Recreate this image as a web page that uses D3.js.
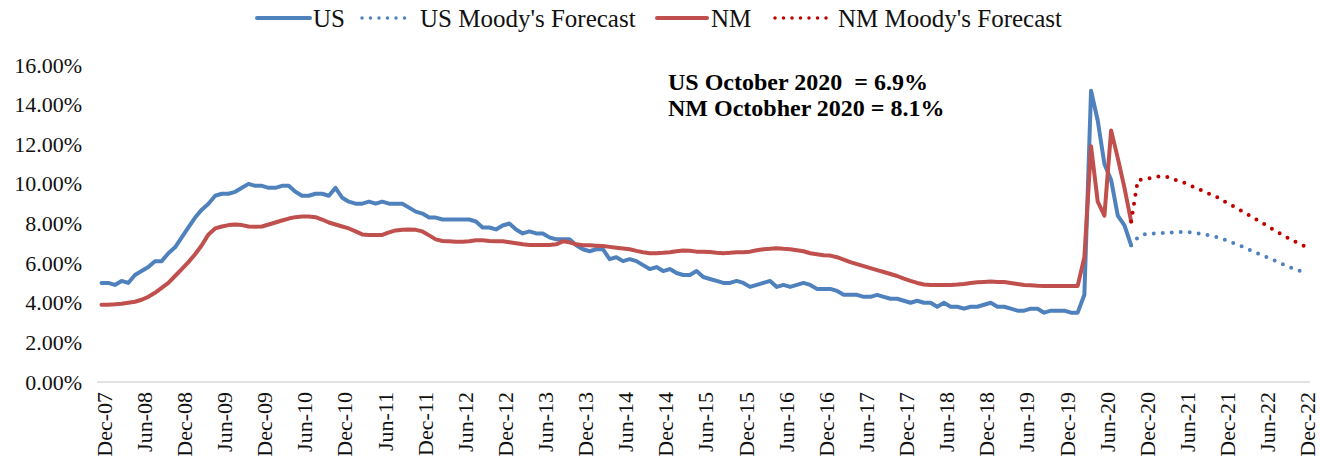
<!DOCTYPE html>
<html>
<head>
<meta charset="utf-8">
<script src="https://cdn.jsdelivr.net/npm/d3@7"></script>
<style>
  body { margin: 0; background: #fff; }
  svg { font-family: "Liberation Serif", "Times New Roman", serif; }
</style>
</head>
<body>
<svg id="chart" width="1320" height="465"></svg>
<script>
// unemployment rates (%), monthly Dec-07 .. Oct-20
var usActual = [5.0,
  5.0,4.9,5.1,5.0,5.4,5.6,5.8,6.1,6.1,6.5,6.8,7.3,
  7.8,8.3,8.7,9.0,9.4,9.5,9.5,9.6,9.8,10.0,9.9,9.9,
  9.8,9.8,9.9,9.9,9.6,9.4,9.4,9.5,9.5,9.4,9.8,9.3,
  9.1,9.0,9.0,9.1,9.0,9.1,9.0,9.0,9.0,8.8,8.6,8.5,
  8.3,8.3,8.2,8.2,8.2,8.2,8.2,8.1,7.8,7.8,7.7,7.9,
  8.0,7.7,7.5,7.6,7.5,7.5,7.3,7.2,7.2,7.2,6.9,6.7,
  6.6,6.7,6.7,6.2,6.3,6.1,6.2,6.1,5.9,5.7,5.8,5.6,
  5.7,5.5,5.4,5.4,5.6,5.3,5.2,5.1,5.0,5.0,5.1,5.0,
  4.8,4.9,5.0,5.1,4.8,4.9,4.8,4.9,5.0,4.9,4.7,4.7,
  4.7,4.6,4.4,4.4,4.4,4.3,4.3,4.4,4.3,4.2,4.2,4.1,
  4.0,4.1,4.0,4.0,3.8,4.0,3.8,3.8,3.7,3.8,3.8,3.9,
  4.0,3.8,3.8,3.7,3.6,3.6,3.7,3.7,3.5,3.6,3.6,3.6,
  3.5,3.5,4.4,14.7,13.2,11.0,10.2,8.4,7.9,6.9];

var nmActual = [3.9,
  3.9,3.92,3.95,4.0,4.05,4.15,4.3,4.5,4.75,5.0,5.35,5.7,
  6.05,6.45,6.9,7.45,7.75,7.85,7.92,7.95,7.92,7.85,7.84,7.85,
  7.95,8.05,8.15,8.25,8.32,8.35,8.35,8.32,8.2,8.05,7.95,7.85,
  7.75,7.6,7.45,7.42,7.42,7.42,7.55,7.65,7.68,7.7,7.68,7.6,
  7.4,7.2,7.12,7.1,7.08,7.08,7.1,7.15,7.15,7.12,7.1,7.1,
  7.05,7.0,6.95,6.92,6.92,6.92,6.92,6.95,7.1,7.05,6.95,6.9,
  6.9,6.88,6.86,6.82,6.78,6.74,6.7,6.62,6.55,6.5,6.5,6.52,
  6.55,6.6,6.64,6.62,6.58,6.58,6.56,6.52,6.5,6.52,6.55,6.55,
  6.58,6.65,6.7,6.72,6.75,6.72,6.7,6.65,6.6,6.5,6.45,6.4,
  6.38,6.3,6.18,6.05,5.95,5.85,5.75,5.65,5.55,5.45,5.35,5.22,
  5.1,5.0,4.92,4.9,4.9,4.9,4.9,4.92,4.95,5.0,5.03,5.05,
  5.07,5.05,5.05,5.0,4.95,4.9,4.88,4.86,4.85,4.85,4.85,4.85,
  4.85,4.85,6.3,11.9,9.1,8.4,12.7,11.3,9.8,8.1];

// Moody's forecast, Oct-20 .. Dec-22
var usForecast = [6.9,
  7.3,7.45,7.5,7.5,7.52,7.55,7.57,7.57,7.55,7.5,7.44,7.38,7.3,
  7.18,7.05,6.92,6.78,6.63,6.48,6.34,6.2,6.05,5.9,5.76,5.63,5.52];
var nmForecast = [8.1,
  10.2,10.22,10.3,10.37,10.37,10.3,10.15,10.05,9.9,9.75,9.6,9.45,9.3,
  9.1,8.92,8.73,8.55,8.35,8.15,7.95,7.75,7.55,7.35,7.18,7.0,6.85];

var tickLabels = ["Dec-07","Jun-08","Dec-08","Jun-09","Dec-09","Jun-10","Dec-10",
  "Jun-11","Dec-11","Jun-12","Dec-12","Jun-13","Dec-13","Jun-14","Dec-14",
  "Jun-15","Dec-15","Jun-16","Dec-16","Jun-17","Dec-17","Jun-18","Dec-18",
  "Jun-19","Dec-19","Jun-20","Dec-20","Jun-21","Dec-21","Jun-22","Dec-22"];
var yTicks = [0, 2, 4, 6, 8, 10, 12, 14, 16];

var notes = ["US October 2020  = 6.9%", "NM Octobher 2020 = 8.1%"];

// month categories Dec-07 .. Dec-22
var fmt = d3.timeFormat("%b-%y");
var months = d3.timeMonth.range(new Date(2007, 11, 1), new Date(2023, 0, 1)).map(fmt);
var forecastStart = usActual.length - 1;

var svg = d3.select("#chart");

var x = d3.scalePoint()
    .domain(months)
    .range([101.5, 1305]);

var y = d3.scaleLinear()
    .domain([0, 16])
    .range([382, 65]);

// y axis labels, no axis line
var yAxis = svg.append("g")
    .attr("transform", "translate(82,0)")
    .call(d3.axisLeft(y).tickValues(yTicks).tickSize(0).tickPadding(0)
        .tickFormat(function(d) { return d.toFixed(2) + "%"; }));
yAxis.select(".domain").remove();
yAxis.selectAll("text")
    .attr("font-size", 22)
    .attr("font-family", "Liberation Serif")
    .attr("fill", "#111");

// x axis
var xAxis = svg.append("g")
    .attr("transform", "translate(0," + y(0) + ")")
    .call(d3.axisBottom(x).tickValues(tickLabels).tickSize(0).tickPadding(0));
xAxis.select(".domain")
    .attr("d", "M97,0H1310")
    .attr("stroke", "#d9d9d9")
    .attr("stroke-width", 1.5);
xAxis.selectAll("text")
    .attr("font-size", 22)
    .attr("font-family", "Liberation Serif")
    .attr("fill", "#111")
    .attr("text-anchor", "end")
    .attr("transform", "translate(2,10) rotate(-90)")
    .attr("x", 0)
    .attr("y", 0)
    .attr("dy", "0.35em");

function lineFor(offset) {
    return d3.line()
        .x(function(d, i) { return x(months[i + offset]); })
        .y(function(d) { return y(d); });
}

var series = [
    { name: "US", values: usActual, offset: 0, color: "#4f81bd", dotted: false },
    { name: "US Moody's Forecast", values: usForecast, offset: forecastStart, color: "#4f81bd", dotted: true },
    { name: "NM", values: nmActual, offset: 0, color: "#c0504d", dotted: false },
    { name: "NM Moody's Forecast", values: nmForecast, offset: forecastStart, color: "#c00000", dotted: true }
];

series.forEach(function(s) {
    svg.append("path")
        .datum(s.values)
        .attr("d", lineFor(s.offset))
        .attr("fill", "none")
        .attr("stroke", s.color)
        .attr("stroke-width", 4)
        .attr("stroke-linejoin", "round")
        .attr("stroke-linecap", "round")
        .attr("stroke-dasharray", s.dotted ? "0 9" : null);
});

// legend
var legendPos = [
    { x1: 257, x2: 310, tx: 313 },
    { x1: 362, x2: 412, tx: 420 },
    { x1: 657, x2: 707, tx: 711 },
    { x1: 775, x2: 828, tx: 838 }
];
series.forEach(function(s, i) {
    var p = legendPos[i];
    svg.append("line")
        .attr("x1", p.x1).attr("x2", p.x2)
        .attr("y1", 18).attr("y2", 18)
        .attr("stroke", s.color)
        .attr("stroke-width", s.dotted ? 3.5 : 4)
        .attr("stroke-linecap", "round")
        .attr("stroke-dasharray", s.dotted ? "0 8.5" : null);
    svg.append("text")
        .attr("x", p.tx)
        .attr("y", 27)
        .attr("font-size", 25)
        .attr("fill", "#111")
        .text(s.name);
});

// annotation
svg.selectAll(".note")
    .data(notes).enter()
    .append("text")
    .attr("class", "note")
    .attr("x", 668)
    .attr("y", function(d, i) { return 90 + i * 26; })
    .attr("font-size", 24)
    .attr("font-weight", "bold")
    .attr("fill", "#000")
    .style("white-space", "pre")
    .text(function(d) { return d; });
</script>
</body>
</html>
